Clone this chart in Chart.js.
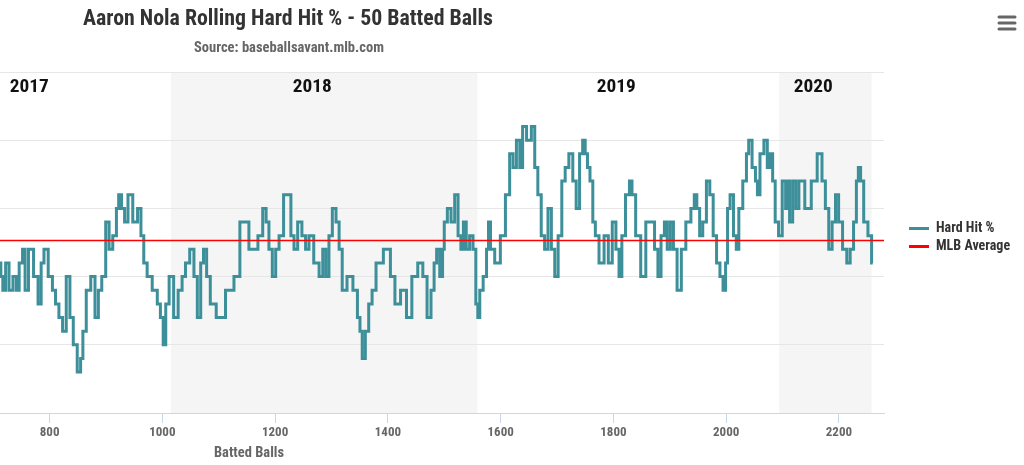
<!DOCTYPE html>
<html><head><meta charset="utf-8">
<script src="https://cdn.jsdelivr.net/npm/chart.js@4.4.1/dist/chart.umd.min.js"></script>
<style>html,body{margin:0;padding:0;background:#fff}#wrap{position:relative;width:1024px;height:465px}</style>
</head><body><div id="wrap"><canvas id="c"></canvas></div>
<script>
// ---------- data ----------
const chartTitle = 'Aaron Nola Rolling Hard Hit % - 50 Batted Balls';
const chartSubtitle = 'Source: baseballsavant.mlb.com';
const xAxisTitle = 'Batted Balls';
const seriesNames = ['Hard Hit %', 'MLB Average'];
const battedBalls = [712,715,719,725,731,739,743,749,755,758,767,776,783,787,793,802,808,813,820,826,833,839,845,853,857,861,869,877,884,889,896,903,908,916,921,924,931,935,943,952,960,964,970,976,
988,994,999,1004,1008,1016,1024,1032,1038,1044,1053,1059,1065,1071,1075,1082,1088,1103,1121,1133,1142,1165,1174,1182,1186,1192,1198,1204,1210,1220,
1225,1231,1236,1244,1251,1257,1263,1274,1282,1287,1293,1298,1305,1311,1316,1322,1333,1343,1349,1352,1357,1363,1369,1375,1383,1401,1408,1417,1428,1438,1447,1459,1465,1474,1479,1485,1488,
1496,1498,1502,1509,1515,1522,1527,1532,1536,1542,1548,1554,1558,1561,1565,1573,1577,1580,1584,1595,1604,1613,1619,1625,1631,1637,1641,1651,1658,1663,1669,1675,1681,1687,1693,1699,1705,1712,1717,1725,1731,1737,1743,
1748,1752,1756,1761,1766,1770,1779,1788,1794,1802,1807,1813,1817,1826,1831,1835,1844,1853,1862,1869,1877,1881,1888,1893,1898,1904,1909,1917,1924,1933,1942,1945,1951,1955,1962,1968,1974,1980,1986,1992,1997,2001,
2004,2010,2016,2020,2025,2034,2038,2042,2050,2054,2057,2063,2071,2075,2081,2084,2090,2096,2103,2108,2111,2114,2122,2125,2133,2146,2156,2167,2173,2179,2185,2191,2197,2202,2211,2217,2223,2229,2233,2236,2241,2247,2256,2260];
const hardHitPct = [32,30,28,32,28,30,28,32,34,28,34,30,26,32,34,30,28,26,24,22,30,24,20,16,18,22,28,30,24,28,30,38,34,36,40,42,40,38,42,38,40,36,32,30,
28,26,24,20,26,30,24,28,30,32,34,30,24,32,34,30,26,24,28,30,38,34,36,40,38,34,30,34,36,42,
42,36,34,38,36,34,36,32,30,34,30,36,40,38,34,28,30,28,24,22,18,22,26,28,32,34,30,26,28,24,30,32,30,24,28,32,34,
30,34,38,40,38,42,36,34,38,34,36,34,26,24,28,30,34,38,34,32,36,42,48,46,50,46,52,50,52,46,42,36,34,40,34,30,36,44,46,48,44,40,48,
50,48,46,44,38,36,32,36,32,38,34,30,36,42,44,42,36,30,38,38,34,30,36,38,34,38,34,28,34,38,40,42,40,36,38,44,42,36,32,30,28,32,
40,42,36,34,40,44,48,50,46,44,42,48,50,46,48,44,38,36,44,40,44,38,44,40,44,40,44,48,44,40,34,38,42,38,34,32,34,38,44,46,44,38,36,32];
const mlbAverage = 35.3;
const xTicks = [800,1000,1200,1400,1600,1800,2000,2200];
const seasons = ['2017','2018','2019','2020'];
const seasonStart = [555,1015,1559,2094];
const seasonEnd = [1015,1559,2094,2258];
const xMin = 712, xMax = 2280;
const yMin = 10, yMax = 60, yStep = 10;

// ---------- styles ----------
const FONT = "'Roboto Condensed', Roboto, 'Noto Sans', sans-serif";
const TEAL = '#3d8f9a';
Chart.defaults.font.family = FONT;

const mctx = document.createElement('canvas').getContext('2d');
mctx.font = 'bold 14px ' + FONT;
const legendTextW = Math.max(...seriesNames.map(s => mctx.measureText(s).width));
const padRight = Math.max(0, 78 - legendTextW);

function drawFitText(ctx, text, cx, cy, targetW) {
  const w = ctx.measureText(text).width;
  const sx = targetW / w;
  ctx.save();
  ctx.translate(cx, cy);
  ctx.scale(sx, 1);
  ctx.fillText(text, 0, 0);
  ctx.restore();
}

const decorPlugin = {
  id: 'decor',
  afterLayout(chart) {
    const lg = chart.legend;
    if (lg) { lg.top -= 5; lg.bottom -= 5; }
  },
  beforeDraw(chart) {
    const {ctx, chartArea: a, scales: {x}} = chart;
    ctx.save();
    ctx.beginPath();
    ctx.rect(a.left, a.top, a.right - a.left, a.bottom - a.top);
    ctx.clip();
    seasons.forEach((s, i) => {
      const x0 = x.getPixelForValue(seasonStart[i]);
      const x1 = x.getPixelForValue(seasonEnd[i]);
      if (i % 2 === 1) {
        ctx.fillStyle = '#f5f5f5';
        ctx.fillRect(x0, a.top, x1 - x0, a.bottom - a.top);
      }
    });
    ctx.fillStyle = '#111111';
    ctx.font = 'bold 19px ' + FONT;
    ctx.textAlign = 'center';
    ctx.textBaseline = 'middle';
    seasons.forEach((s, i) => {
      const x0 = x.getPixelForValue(seasonStart[i]);
      const x1 = x.getPixelForValue(seasonEnd[i]);
      drawFitText(ctx, s, (x0 + x1) / 2 - 12, a.top + 15, 39);
    });
    ctx.restore();
  },
  afterDraw(chart) {
    const {ctx} = chart;
    ctx.save();
    ctx.textAlign = 'center';
    ctx.textBaseline = 'middle';
    ctx.fillStyle = '#333333';
    ctx.font = 'bold 22px ' + FONT;
    drawFitText(ctx, chartTitle, 288, 19, 410);
    ctx.fillStyle = '#666666';
    ctx.font = 'bold 14px ' + FONT;
    drawFitText(ctx, chartSubtitle, 289, 48, 190);
    ctx.font = 'bold 14px ' + FONT;
    drawFitText(ctx, xAxisTitle, 249, 453, 70);
    // menu icon
    ctx.strokeStyle = '#666666';
    ctx.lineWidth = 3;
    ctx.lineCap = 'round';
    [17, 23, 29].forEach(y => {
      ctx.beginPath(); ctx.moveTo(999, y); ctx.lineTo(1015, y); ctx.stroke();
    });
    ctx.restore();
  }
};

new Chart(document.getElementById('c'), {
  type: 'line',
  data: {
    datasets: [
      {
        label: seriesNames[0],
        data: battedBalls.map((b, i) => ({x: b, y: hardHitPct[i]})),
        borderColor: TEAL, backgroundColor: TEAL,
        borderWidth: 3, pointRadius: 0, stepped: 'middle', order: 1
      },
      {
        label: seriesNames[1],
        data: [{x: xMin, y: mlbAverage}, {x: xMax, y: mlbAverage}],
        borderColor: '#ff0000', backgroundColor: '#ff0000',
        borderWidth: 1.5, pointRadius: 0, order: 0
      }
    ]
  },
  options: {
    responsive: true, maintainAspectRatio: false, animation: false,
    layout: {padding: {top: 72, right: padRight, bottom: 0, left: 0}},
    plugins: {
      title: {display: false},
      tooltip: {enabled: false},
      legend: {
        position: 'right', fullSize: false, align: 'center',
        labels: {
          boxWidth: 20, boxHeight: 3, padding: 4, color: '#333333',
          font: {size: 14, weight: 'bold', family: FONT},
          generateLabels: chart => chart.data.datasets.map((ds, i) => ({
            text: ds.label, fillStyle: ds.borderColor, strokeStyle: ds.borderColor,
            lineWidth: 0, hidden: !chart.isDatasetVisible(i), datasetIndex: i, fontColor: '#333333'
          }))
        }
      }
    },
    scales: {
      x: {
        type: 'linear', position: 'bottom', min: xMin, max: xMax,
        afterBuildTicks: s => { s.ticks = xTicks.map(v => ({value: v})); },
        afterFit: s => { s.height = 52; },
        ticks: {color: '#666666', padding: 2, font: {size: 13, weight: 'bold', family: FONT}, maxRotation: 0,
                callback: v => String(v)},
        grid: {drawOnChartArea: false, drawTicks: true, tickLength: 10, color: '#ccd6eb', lineWidth: 1},
        border: {color: '#ccd6eb', width: 1}
      },
      y: {
        type: 'linear', position: 'right', min: yMin, max: yMax,
        ticks: {display: false, stepSize: yStep},
        afterFit: s => { s.width = 21; },
        grid: {color: '#e6e6e6', lineWidth: 1, drawTicks: false},
        border: {display: false}
      }
    }
  },
  plugins: [decorPlugin]
});
</script>
</body></html>
